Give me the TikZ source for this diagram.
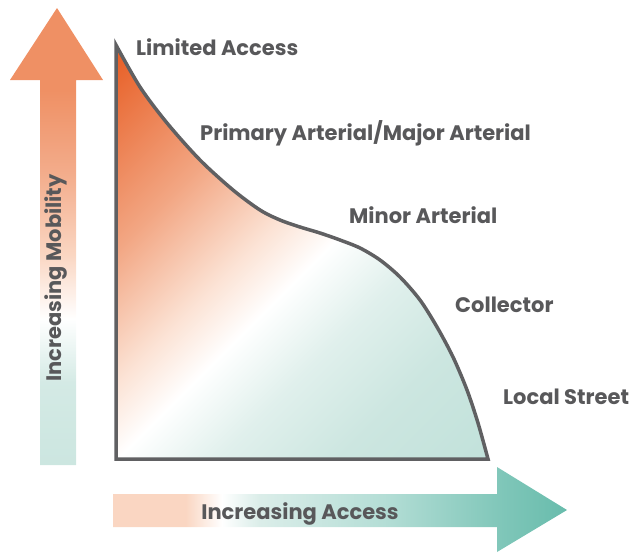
\documentclass[tikz,border=0pt]{standalone}
\usepackage{fontspec}
\setmainfont{Poppins}
\usetikzlibrary{calc}
\definecolor{ink}{RGB}{88,88,90}
\definecolor{flame}{RGB}{232,98,42}
\definecolor{apricot}{RGB}{239,144,100}
\definecolor{peach}{RGB}{250,214,194}
\definecolor{mint}{RGB}{204,230,224}
\definecolor{sea}{RGB}{104,188,172}
% gradients
\pgfdeclareverticalshading{mobility}{100bp}{color(0bp)=(mint); color(25bp)=(mint);
  color(34bp)=(mint!85!white); color(41bp)=(white); color(48bp)=(peach);
  color(57bp)=(apricot!75!white); color(66bp)=(apricot); color(100bp)=(apricot)}
\pgfdeclarehorizontalshading{access}{100bp}{color(0bp)=(peach); color(33bp)=(peach);
  color(37bp)=(white); color(41bp)=(mint!70!white); color(55bp)=(sea!50!white);
  color(68bp)=(sea!85!white); color(75bp)=(sea); color(100bp)=(sea)}
\pgfdeclarehorizontalshading{hierarchy}{100bp}{color(0bp)=(flame); color(16bp)=(flame);
  color(33bp)=(apricot!80!white); color(45bp)=(peach!70!white); color(52bp)=(white);
  color(61bp)=(mint!60!white); color(72bp)=(mint); color(85bp)=(mint!90!sea); color(100bp)=(mint!90!sea)}
\tikzset{
  lbl/.style={font=\fontsize{21}{24}\selectfont\bfseries,text=ink,inner sep=0pt},
  outline/.style={draw=ink!95!white,line width=3.5pt,miter limit=20},
}

\begin{document}
\begin{tikzpicture}[x=1pt,y=-1pt]
  \useasboundingbox (0,0) rectangle (636,552);
  % axis arrows
  \shade[shading=mobility] (40,465) -- (40,80) -- (10,80) -- (57,8) -- (103,80) -- (76,80) -- (76,465) -- cycle;
  \shade[shading=access] (113,494) -- (497,494) -- (497,467) -- (567,510) -- (497,552) -- (497,527) -- (113,527) -- cycle;
  % the curve
  \shadedraw[shading=hierarchy,shading angle=-45,outline] (116,459) -- (116,45)
    -- plot[smooth] coordinates {(116,45) (140,87) (167,123) (200,160) (233,190) (260,210) (280,220) (300,227)
      (320,233) (340,240) (360,248) (380,260) (400,277) (420,300) (437,327) (453,357) (467,390) (478,423) (488,459)} -- cycle;
  % class labels
  \foreach \n/\x/\y/\t in {la/136/55/Limited Access, pa/200/140/{Primary Arterial/Major Arterial},
      ma/349/223/Minor Arterial, co/455/312/Collector, ls/503/404/Local Street}
    \node[lbl,anchor=base west] (\n) at (\x,\y) {\t};
  \node[lbl,anchor=base] (acc) at (300,519) {Increasing Access};
  \node[lbl,anchor=base,rotate=90] (mob) at (61,278) {Increasing Mobility};
\end{tikzpicture}
\end{document}
